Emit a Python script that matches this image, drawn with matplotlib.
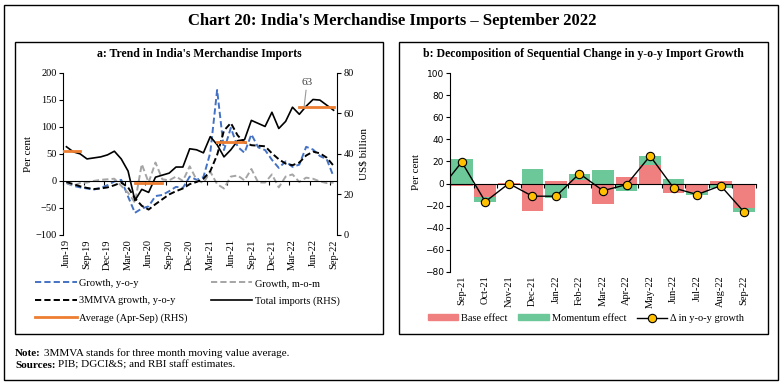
import matplotlib
matplotlib.use("Agg")
import matplotlib.pyplot as plt
from matplotlib.patches import Rectangle, Patch
from matplotlib.lines import Line2D
import numpy as np

SERIF = ["Liberation Serif", "DejaVu Serif"]
plt.rcParams['font.family'] = SERIF

# ---------------- data: panel a ----------------
months = ["Jun-19", "Jul-19", "Aug-19", "Sep-19", "Oct-19", "Nov-19", "Dec-19",
          "Jan-20", "Feb-20", "Mar-20", "Apr-20", "May-20", "Jun-20", "Jul-20",
          "Aug-20", "Sep-20", "Oct-20", "Nov-20", "Dec-20", "Jan-21", "Feb-21",
          "Mar-21", "Apr-21", "May-21", "Jun-21", "Jul-21", "Aug-21", "Sep-21",
          "Oct-21", "Nov-21", "Dec-21", "Jan-22", "Feb-22", "Mar-22", "Apr-22",
          "May-22", "Jun-22", "Jul-22", "Aug-22", "Sep-22"]
growth_yoy = [-4, -9, -12, -14, -16, -13, -8, -1, 2, -29,
              -59, -51, -47, -28, -26, -19, -11, -13, 8, 2,
              7, 52, 168, 57, 98, 63, 52, 86, 62, 57,
              39, 24, 36, 26, 30, 63, 58, 46, 40, 8]
growth_mom = [-3, -9, -4, -3, 0, 2, 3, 4, -9, -22,
              -40, 31, -3, 34, 3, 1, 8, 0, 27, 2,
              -4, 17, -6, -14, 8, 10, 1, 22, -3, -3,
              12, -12, 8, 12, -2, 6, 4, -1, -4, -3]
mmva_yoy = [-2, -6, -10, -13, -15, -14, -12, -8, -3, -12,
            -32, -46, -53, -43, -34, -25, -19, -14, -6, -2,
            4, 18, 48, 93, 107, 84, 71, 66, 65, 64,
            51, 40, 32, 29, 34, 47, 54, 51, 43, 28]
total_imports = [43.5, 41.0, 40.0, 37.5, 38.0, 38.5, 39.5, 41.3, 37.5, 31.5,
                 17.0, 22.5, 21.0, 28.5, 29.5, 30.5, 33.5, 33.5, 42.5, 42.0,
                 40.5, 48.5, 44.5, 38.5, 42.0, 46.5, 47.0, 56.5, 55.0, 53.5,
                 60.5, 52.5, 56.0, 63.0, 59.5, 63.5, 66.8, 66.5, 64.0, 61.5]
avg_periods = [("Apr-19", "Aug-19"), ("Apr-20", "Aug-20"),
               ("Apr-21", "Aug-21"), ("Apr-22", "Sep-22")]
avg_values = [41.4, 25.5, 46.0, 63.2]
avg_label = "63"
xlabels_a = months[::3]

# ---------------- data: panel b ----------------
decomp_months = ["Sep-21", "Oct-21", "Nov-21", "Dec-21", "Jan-22", "Feb-22",
                 "Mar-22", "Apr-22", "May-22", "Jun-22", "Jul-22", "Aug-22",
                 "Sep-22"]
base_effect = [-2.5, -12, 0.5, -24.5, 2, 3, -18.5, 6, 17, -8.5, -8, 2, -22]
momentum_effect = [22, -4.5, -0.5, 13, -13.5, 6, 12, -7, 8, 4.5, -2, -4, -4]
delta_yoy = [19.5, -16.5, 0, -11.5, -11.5, 9, -6.5, -1, 25, -4, -10, -2, -26]
delta_prev = -7.5  # Aug-21 value (outside the plotted range)

# ---------------- colours ----------------
C_BLUE = "#4472C4"
C_GREY = "#A5A5A5"
C_ORANGE = "#ED7D31"
C_RED = "#F08080"
C_GREEN = "#6CC799"
C_DOT = "#FFC000"

W, H = 783, 385
fig = plt.figure(figsize=(W / 100, H / 100), dpi=100)
fig.patch.set_facecolor("white")


def fx(px):
    return px / W


def fy(py):
    return 1 - py / H


def frame(x0, y0, x1, y1, lw=1.0):
    fig.add_artist(Rectangle((fx(x0), fy(y1)), fx(x1) - fx(x0), fy(y0) - fy(y1),
                             transform=fig.transFigure, fill=False, lw=lw,
                             ec="black"))


frame(4, 5, 778, 380)
frame(15, 42, 383, 334)
frame(399, 42, 768, 334)

fig.text(fx(392), fy(21), "Chart 20: India's Merchandise Imports \u2013 September 2022",
         ha="center", va="center", fontsize=12, fontweight="bold")
fig.text(fx(199), fy(54), "a: Trend in India's Merchandise Imports",
         ha="center", va="center", fontsize=8.5, fontweight="bold")
fig.text(fx(583), fy(54), "b: Decomposition of Sequential Change in y-o-y Import Growth",
         ha="center", va="center", fontsize=8.5, fontweight="bold")

# ---------------- panel a ----------------
ax = fig.add_axes([fx(63), fy(235), fx(337) - fx(63), fy(72.7) - fy(235)])
x = np.arange(len(months))
dash = (0, (3.2, 1.6))
l_yoy, = ax.plot(x, growth_yoy, color=C_BLUE, lw=1.4, ls=dash)
l_mom, = ax.plot(x, growth_mom, color=C_GREY, lw=1.4, ls=dash)
l_mmva, = ax.plot(x, mmva_yoy, color="black", lw=1.4, ls=dash)
ax.set_xlim(-0.5, len(months) - 0.5)
ax.set_ylim(-100, 200)
ax.set_yticks(range(-100, 201, 50))
ax.spines["top"].set_visible(False)
ax.spines["right"].set_visible(False)
ax.spines["bottom"].set_position(("data", 0))
ax.spines["bottom"].set_linewidth(0.8)
ax.spines["left"].set_linewidth(0.8)
ax.set_xticks(np.arange(-0.5, len(months) - 0.5, 3))
ax.set_xticklabels([])
ax.set_xticks(np.arange(0, len(months), 3), minor=True)
ax.set_xticklabels(xlabels_a, minor=True, rotation=90)
ax.tick_params(axis="x", which="major", direction="out", length=3, width=0.8)
ax.tick_params(axis="x", which="minor", length=0, pad=42, labelsize=7.5)
ax.tick_params(axis="y", direction="out", length=3, width=0.8, labelsize=7.5, pad=1.5)
ax.set_ylabel("Per cent", fontsize=8, labelpad=2)

ax2 = ax.twinx()
l_tot, = ax2.plot(x, total_imports, color="black", lw=1.2)
MON = ["Jan", "Feb", "Mar", "Apr", "May", "Jun", "Jul", "Aug", "Sep", "Oct", "Nov", "Dec"]


def month_pos(lab):
    return (int(lab[-2:]) - 19) * 12 + MON.index(lab[:3]) - 5


for (s, e), v in zip(avg_periods, avg_values):
    l_avg, = ax2.plot([month_pos(s), month_pos(e)], [v, v], color=C_ORANGE, lw=2)
ax2.set_ylim(0, 80)
ax2.set_yticks(range(0, 81, 20))
for sp in ["top", "bottom", "left"]:
    ax2.spines[sp].set_visible(False)
ax2.spines["right"].set_linewidth(0.8)
ax2.tick_params(axis="y", direction="out", length=3, width=0.8, labelsize=7.5, pad=1.5)
ax2.set_ylabel("US$ billion", fontsize=8, labelpad=4)
s, e = avg_periods[-1]
ax2.annotate(avg_label, xy=(month_pos(s) + 0.7, avg_values[-1]),
             xytext=(2, 14), textcoords="offset points", ha="center", va="bottom",
             fontsize=8, color="#404040",
             arrowprops=dict(arrowstyle="-", color="#999999", lw=0.8, shrinkA=0, shrinkB=0))

fig.legend([l_yoy, l_mmva, l_avg, l_mom, l_tot],
           ["Growth, y-o-y", "3MMVA growth, y-o-y", "Average (Apr-Sep) (RHS)",
            "Growth, m-o-m", "Total imports (RHS)"],
           ncol=2, loc="upper left", bbox_to_anchor=(fx(35), fy(278.5)),
           frameon=False, fontsize=7.5, handlelength=4.0, handletextpad=0.25,
           columnspacing=2.2, labelspacing=0.8, borderpad=0, borderaxespad=0)

# ---------------- panel b ----------------
axb = fig.add_axes([fx(450), fy(271.7), fx(756) - fx(450), fy(73.3) - fy(271.7)])
xb = np.arange(len(decomp_months))
base = np.array(base_effect, dtype=float)
mom = np.array(momentum_effect, dtype=float)
bw = 0.92
base_bottom = np.zeros_like(base)
mom_bottom = np.where(np.sign(mom) == np.sign(base), base, 0.0)
axb.bar(xb, base, bw, bottom=base_bottom, color=C_RED, zorder=1)
axb.bar(xb, mom, bw, bottom=mom_bottom, color=C_GREEN, zorder=1)
xl = np.concatenate([[-1], xb])
yl = np.concatenate([[delta_prev], delta_yoy])
axb.plot(xl, yl, color="black", lw=1.0, zorder=4)
axb.plot(xb, delta_yoy, ls="none", marker="o", ms=6, mfc=C_DOT, mec="black",
         mew=0.8, zorder=5)
axb.set_xlim(-0.5, len(decomp_months) - 0.5)
axb.set_ylim(-80, 100)
axb.set_yticks(range(-80, 101, 20))
axb.spines["top"].set_visible(False)
axb.spines["right"].set_visible(False)
axb.spines["bottom"].set_position(("data", 0))
axb.spines["bottom"].set_zorder(3)
axb.spines["bottom"].set_linewidth(0.8)
axb.spines["left"].set_linewidth(0.8)
axb.set_xticks(np.arange(-0.5, len(decomp_months), 1))
axb.set_xticklabels([])
axb.set_xticks(xb, minor=True)
axb.set_xticklabels(decomp_months, minor=True, rotation=90)
axb.tick_params(axis="x", which="major", direction="out", length=3, width=0.8)
axb.tick_params(axis="x", which="minor", length=0, pad=66, labelsize=7.5)
axb.tick_params(axis="y", direction="out", length=3, width=0.8, labelsize=6.5, pad=1.5)
for t in axb.get_yticklabels():
    t.set_fontfamily("DejaVu Sans")
axb.set_ylabel("Per cent", fontsize=8, labelpad=3)

h_base = Patch(color=C_RED)
h_mom = Patch(color=C_GREEN)
h_line = Line2D([], [], color="black", lw=1.0, marker="o", ms=6, mfc=C_DOT,
                mec="black", mew=0.8)
fig.legend([h_base, h_mom, h_line], ["Base effect", "Momentum effect", "\u0394 in y-o-y growth"],
           ncol=3, loc="center", bbox_to_anchor=(fx(586), fy(318.5)), frameon=False,
           fontsize=7.5, handlelength=2.9, handleheight=0.5, handletextpad=0.3,
           columnspacing=1.0, borderpad=0, borderaxespad=0)

# ---------------- notes ----------------
for head, rest, yy in [("Note:", "3MMVA stands for three month moving value average.", 356),
                       ("Sources:", "PIB; DGCI&S; and RBI staff estimates.", 368)]:
    t = fig.text(fx(15), fy(yy), head, fontsize=8, fontweight="bold", va="baseline")
    ax.annotate(rest, xy=(1, 0), xycoords=t, xytext=(2, 0), textcoords="offset points",
                fontsize=8, va="bottom", ha="left", annotation_clip=False)

fig.savefig("out.png", dpi=100, facecolor="white")
